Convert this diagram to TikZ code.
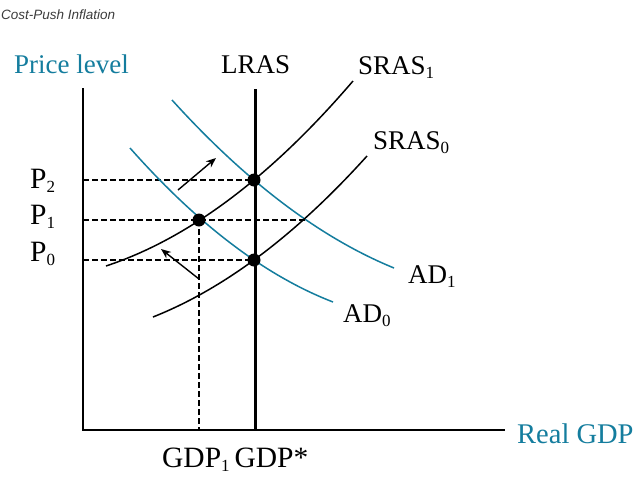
\documentclass[tikz,border=0pt]{standalone}
\usepackage{fontspec}
\setmainfont{Liberation Serif}
\newfontfamily\capfont{Liberation Sans}
\definecolor{tealc}{RGB}{20,125,158}
\definecolor{capgray}{RGB}{60,60,60}
\newcommand\lowsub[1]{\raisebox{-4pt}{\fontsize{17}{17}\selectfont #1}}
\usetikzlibrary{arrows.meta}
\tikzset{
  lbl/.style={font=\fontsize{27}{27}\selectfont, inner sep=0pt, anchor=base west},
  biglbl/.style={lbl, font=\fontsize{29.5}{29.5}\selectfont},
  tlbl/.style={lbl, text=tealc},
  axis/.style={line width=1.5pt},
  curve/.style={line width=1.5pt},
  adcurve/.style={line width=1.5pt, draw=tealc},
  guide/.style={line width=1.4pt, dash pattern=on 5.5pt off 3.5pt},
  eq/.style={circle, fill=black, minimum size=13pt, inner sep=0pt},
  shiftarrow/.style={line width=1.4pt, -{Stealth[length=10pt,width=8pt]}}
}
\begin{document}
\begin{tikzpicture}[x=1pt,y=-1pt]
\useasboundingbox (0,0) rectangle (638,477);
\fill[white] (0,0) rectangle (638,477);
\node[anchor=base west, inner sep=0pt, font=\capfont\itshape\fontsize{13.5}{13.5}\selectfont, text=capgray] (cap) at (1,19) {Cost-Push Inflation};
% axes
\coordinate (o) at (83,430);
\coordinate (ytop) at (83,88);
\coordinate (xend) at (505,430);
\draw[axis] (ytop) -- (o) -- (xend);
% LRAS
\coordinate (lrtop) at (255,89);
\coordinate (lrbot) at (255,430);
\draw[line width=3pt] (lrtop) -- (lrbot);
% equilibrium points
\coordinate (e2) at (254,180);
\coordinate (e1) at (199,220);
\coordinate (e0) at (254,260);
\coordinate (y2) at (83,180);
\coordinate (y1) at (83,220);
\coordinate (y0) at (83,260);
\coordinate (x1) at (199,430);
\coordinate (c1) at (306,220);
% guides
\draw[guide] (y2) -- (e2);
\draw[guide] (y1) -- (c1);
\draw[guide] (y0) -- (e0);
\draw[guide] (e1) -- (x1);
% AD curves
\draw[adcurve] (130,148) .. controls (197.7,224.5) and (265.3,275.8) .. (333,302);
\draw[adcurve] (172,100) .. controls (246,181.7) and (320,237.7) .. (394,268);
% SRAS curves
\draw[curve] (106,266) .. controls (188.3,238.8) and (270.7,177.1) .. (353,81);
\draw[curve] (153,317) .. controls (224.3,288.7) and (295.7,235.1) .. (367,156);
% points on top
\node[eq] (p2dot) at (e2) {};
\node[eq] (p1dot) at (e1) {};
\node[eq] (p0dot) at (e0) {};
% shift arrows
\coordinate (a1s) at (178,190);
\coordinate (a1e) at (216,158);
\coordinate (a2s) at (199,279);
\coordinate (a2e) at (161,249);
\draw[shiftarrow] (a1s) -- (a1e);
\draw[shiftarrow] (a2s) -- (a2e);
% labels
\node[tlbl] (pl) at (14,73) {Price level};
\node[tlbl, font=\fontsize{28.5}{28.5}\selectfont] (rg) at (517,443) {Real GDP};
\node[lbl] (lras) at (221,73) {LRAS};
\node[lbl] (s1) at (358,74) {SRAS\lowsub{1}};
\node[lbl] (s0) at (373,149) {SRAS\lowsub{0}};
\node[lbl] (ad1) at (408,283) {AD\lowsub{1}};
\node[lbl] (ad0) at (343,322) {AD\lowsub{0}};
\node[biglbl] (p2) at (30,188) {P\lowsub{2}};
\node[biglbl] (p1) at (30,224) {P\lowsub{1}};
\node[biglbl] (p0) at (30,261) {P\lowsub{0}};
\node[biglbl] (gdp) at (162,467) {GDP\lowsub{1}\,GDP*};
\end{tikzpicture}
\end{document}
